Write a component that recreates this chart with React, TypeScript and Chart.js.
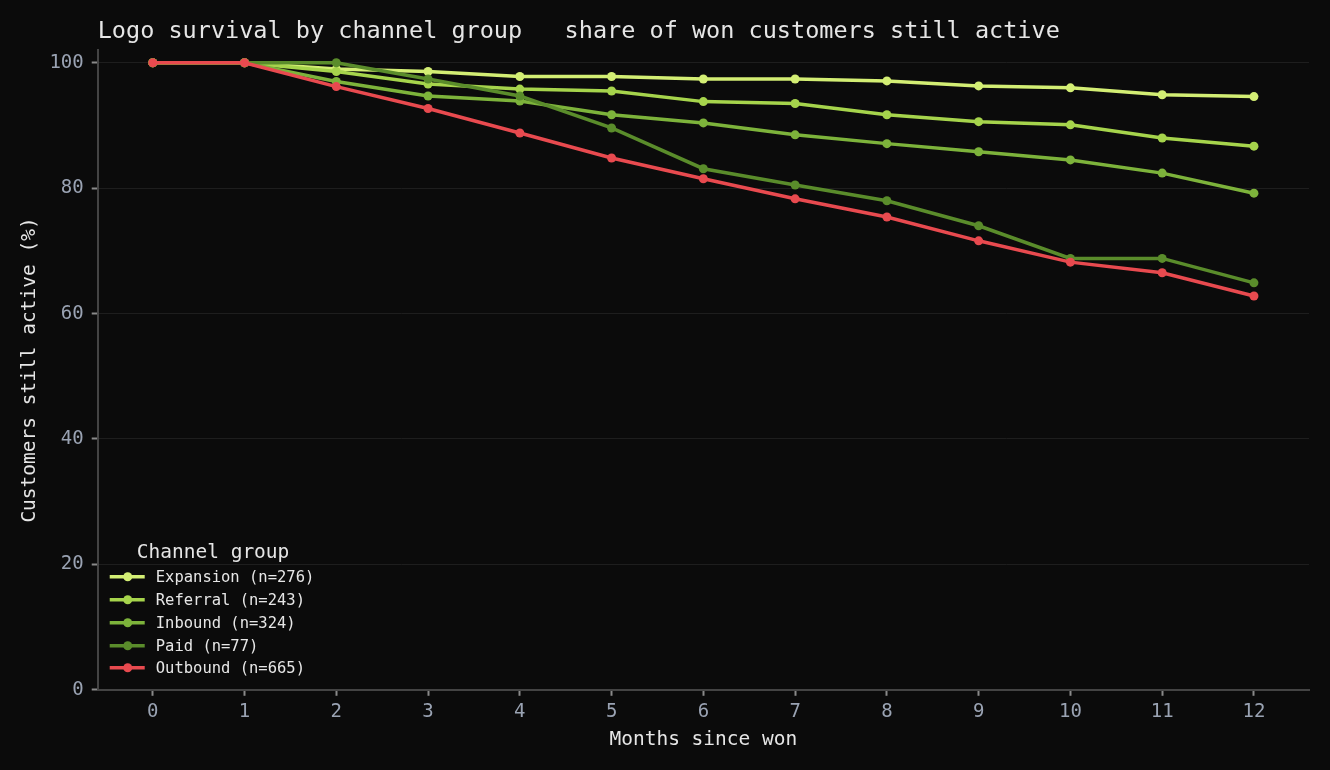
import React, { useEffect, useRef } from 'react';
import { Chart, registerables } from 'chart.js';

Chart.register(...registerables);

const months = [0, 1, 2, 3, 4, 5, 6, 7, 8, 9, 10, 11, 12];
const seriesNames = ['Expansion (n=276)', 'Referral (n=243)', 'Inbound (n=324)', 'Paid (n=77)', 'Outbound (n=665)'];
const expansion = [100, 100, 99.0, 98.6, 97.8, 97.8, 97.4, 97.4, 97.1, 96.3, 96.0, 94.9, 94.6];
const referral = [100, 100, 98.6, 96.6, 95.8, 95.5, 93.8, 93.5, 91.7, 90.6, 90.1, 88.0, 86.7];
const inbound = [100, 100, 97.0, 94.7, 93.9, 91.7, 90.4, 88.5, 87.1, 85.8, 84.5, 82.4, 79.2];
const paid = [100, 100, 100, 97.4, 94.7, 89.6, 83.1, 80.5, 78.0, 74.0, 68.8, 68.8, 64.9];
const outbound = [100, 100, 96.2, 92.7, 88.8, 84.8, 81.5, 78.3, 75.4, 71.6, 68.2, 66.5, 62.8];
const yTicks = [0, 20, 40, 60, 80, 100];

const colors = ['#d3ee74', '#a6d44c', '#7db33b', '#5a8c2b', '#e84a4f'];
const FONT = "'DejaVu Sans Mono', monospace";

// legend drawn inside the plot, bottom-left
const insideLegend = {
    id: 'insideLegend',
    afterDraw(chart: Chart) {
        const { ctx, chartArea } = chart;
        const left = chartArea.left;
        const bottom = chartArea.bottom;
        ctx.save();
        ctx.textBaseline = 'middle';
        ctx.fillStyle = '#e6e6e6';
        ctx.font = `19.5px ${FONT}`;
        ctx.textAlign = 'left';
        ctx.fillText('Channel group', left + 39, bottom - 137);
        ctx.font = `15.5px ${FONT}`;
        const offsets = [113, 90, 67, 44, 22];
        chart.data.datasets.forEach((ds, i) => {
            const y = bottom - offsets[i];
            const c = ds.borderColor as string;
            ctx.strokeStyle = c;
            ctx.lineWidth = 3.5;
            ctx.beginPath();
            ctx.moveTo(left + 12, y);
            ctx.lineTo(left + 47, y);
            ctx.stroke();
            ctx.fillStyle = c;
            ctx.beginPath();
            ctx.arc(left + 30, y, 4.5, 0, Math.PI * 2);
            ctx.fill();
            ctx.fillStyle = '#e6e6e6';
            ctx.fillText(ds.label as string, left + 58, y + 1);
        });
        ctx.restore();
    },
};

const bgPlugin = {
    id: 'bg',
    beforeDraw(chart: Chart) {
        const { ctx, width, height } = chart;
        ctx.save();
        ctx.fillStyle = '#0b0b0b';
        ctx.fillRect(0, 0, width, height);
        ctx.restore();
    },
};

const SurvivalChart: React.FC = () => {
    const chartRef = useRef<HTMLCanvasElement | null>(null);
    const chartInstanceRef = useRef<Chart | null>(null);

    useEffect(() => {
        if (!chartRef.current) return;
        if (chartInstanceRef.current) chartInstanceRef.current.destroy();

        const all = [expansion, referral, inbound, paid, outbound];
        const chart = new Chart(chartRef.current, {
            type: 'line',
            data: {
                datasets: all.map((vals, i) => ({
                    label: seriesNames[i],
                    data: months.map((m, j) => ({ x: m, y: vals[j] })),
                    borderColor: colors[i],
                    backgroundColor: colors[i],
                    borderWidth: 3.5,
                    pointRadius: 4.5,
                    pointBorderWidth: 0,
                    fill: false,
                    tension: 0,
                    // later series sit on top
                    order: all.length - 1 - i,
                })),
            },
            options: {
                animation: false,
                responsive: true,
                maintainAspectRatio: false,
                layout: { padding: { left: 18, right: 21, top: 2, bottom: 14 } },
                plugins: {
                    legend: { display: false },
                    tooltip: { enabled: false },
                    title: {
                        display: true,
                        text: 'Logo survival by channel group   share of won customers still active',
                        align: 'start',
                        fullSize: false,
                        color: '#e6e6e6',
                        font: { family: FONT, size: 23.5, weight: 'normal' },
                        padding: { top: 16, bottom: 4 },
                    },
                },
                scales: {
                    x: {
                        type: 'linear',
                        min: -0.6,
                        max: 12.6,
                        afterBuildTicks: (axis) => {
                            axis.ticks = months.map((v) => ({ value: v }));
                        },
                        ticks: {
                            color: '#9aa3b3',
                            font: { family: FONT, size: 19 },
                            padding: 5,
                        },
                        grid: {
                            drawOnChartArea: false,
                            tickLength: 6,
                            tickColor: '#8a8a8a',
                            tickWidth: 2,
                        },
                        border: { color: '#444', width: 2 },
                        title: {
                            display: true,
                            text: 'Months since won',
                            color: '#e6e6e6',
                            font: { family: FONT, size: 19.5 },
                            padding: { top: 0 },
                        },
                    },
                    y: {
                        type: 'linear',
                        min: 0,
                        max: 102,
                        afterBuildTicks: (axis) => {
                            axis.ticks = yTicks.map((v) => ({ value: v }));
                        },
                        ticks: {
                            color: '#9aa3b3',
                            font: { family: FONT, size: 19 },
                            padding: 8,
                        },
                        grid: {
                            color: '#1e1e1e',
                            tickLength: 6,
                            tickColor: '#8a8a8a',
                            tickWidth: 2,
                        },
                        border: { color: '#444', width: 2 },
                        title: {
                            display: true,
                            text: 'Customers still active (%)',
                            color: '#e6e6e6',
                            font: { family: FONT, size: 19.5 },
                            padding: { top: 0, bottom: 0 },
                        },
                    },
                },
            },
            plugins: [bgPlugin, insideLegend],
        });

        chartInstanceRef.current = chart;
        return () => {
            chart.destroy();
            chartInstanceRef.current = null;
        };
    }, []);

    return <canvas ref={chartRef} />;
};

export default function App() {
    return (
        <div style={{ position: 'fixed', inset: 0, background: '#0b0b0b' }}>
            <SurvivalChart />
        </div>
    );
}
